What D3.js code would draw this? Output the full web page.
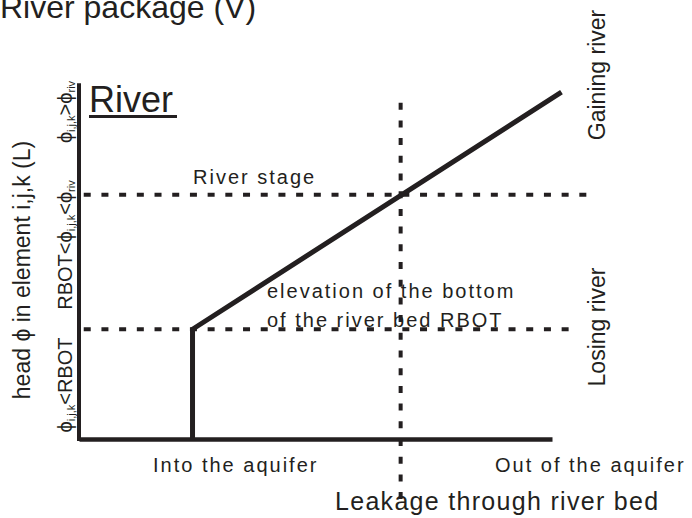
<!DOCTYPE html>
<html>
<head>
<meta charset="utf-8">
<script src="https://cdn.jsdelivr.net/npm/d3@7"></script>
<style>
  body { margin: 0; background: #fff; }
  text { fill: #231f20; font-family: "Liberation Sans", Arial, sans-serif; }
  .spaced { letter-spacing: 2px; font-size: 20px; }
</style>
</head>
<body>
<div id="chart"></div>
<script>
// conceptual units: x = leakage (0..10 along the drawn axis), y = head (0..10)
const headCurveX = [2.4, 2.4, 10.2];
const headCurveY = [0, 3.1, 9.8];
const levelNames = ['River stage', 'RBOT'];
const levelValues = [6.9, 3.1];
const levelEnds = [10.93, 10.55];
const zeroLeakage = 6.8;
const headRangeLabels = ['ϕ<RBOT', 'RBOT<ϕ<ϕriv', 'ϕ>ϕriv'];
const leakageLabels = ['Into the aquifer', 'Out of the aquifer'];
const riverTypes = ['Gaining river', 'Losing river'];

function riverChart() {
    let margin = { top: 85, left: 79, right: 140, bottom: 79 },
        width = 692,
        height = 518;

    function chart(selector) {
        let svg = d3.select(selector)
            .append('svg')
            .attr('width', width)
            .attr('height', height);

        let xScale = d3.scaleLinear()
            .domain([0, 10])
            .range([margin.left, width - margin.right]);

        let yScale = d3.scaleLinear()
            .domain([0, 10])
            .range([height - margin.bottom, margin.top]);

        // axes: plain lines, no ticks
        svg.append('g')
            .attr('transform', `translate(0,${yScale(0)})`)
            .call(d3.axisBottom(xScale).tickValues([]).tickSizeOuter(0))
            .call(g => g.select('.domain').attr('stroke', '#231f20').attr('stroke-width', 4.5));
        svg.append('g')
            .attr('transform', `translate(${xScale(0)},0)`)
            .call(d3.axisLeft(yScale).tickValues([]).tickSizeOuter(0))
            .call(g => g.select('.domain').attr('stroke', '#231f20').attr('stroke-width', 4)
                .attr('d', `M0,${yScale(0) + 2}V${yScale(10.05)}`));

        // dotted reference levels
        svg.selectAll('.level')
            .data(levelValues).enter()
            .append('line')
            .attr('x1', xScale(0.1))
            .attr('x2', (d, i) => xScale(levelEnds[i]))
            .attr('y1', d => yScale(d))
            .attr('y2', d => yScale(d))
            .attr('stroke', '#231f20')
            .attr('stroke-width', 4)
            .attr('stroke-dasharray', '7 10.7');

        // zero leakage line
        svg.append('line')
            .attr('x1', xScale(zeroLeakage)).attr('x2', xScale(zeroLeakage))
            .attr('y1', yScale(9.5)).attr('y2', yScale(-1.93))
            .attr('stroke', '#231f20')
            .attr('stroke-width', 4)
            .attr('stroke-dasharray', '7 10.7');

        // head vs leakage
        let line = d3.line()
            .x(d => xScale(d[0]))
            .y(d => yScale(d[1]));
        svg.append('path')
            .datum(d3.zip(headCurveX, headCurveY))
            .attr('d', line)
            .attr('fill', 'none')
            .attr('stroke', '#231f20')
            .attr('stroke-width', 5)
            .attr('stroke-linejoin', 'miter');

        // titles
        svg.append('text').attr('x', 0).attr('y', 18)
            .style('font-size', '32px').text('River package (V)');
        svg.append('text').attr('x', 89).attr('y', 112)
            .style('font-size', '36px').text('River');
        svg.append('rect').attr('x', 89).attr('y', 115).attr('width', 88).attr('height', 3)
            .attr('fill', '#231f20');

        // level labels
        svg.append('text').attr('class', 'spaced')
            .attr('x', 193).attr('y', 184).text(levelNames[0]);
        svg.append('text').attr('class', 'spaced')
            .attr('x', 267).attr('y', 298).text('elevation of the bottom');
        svg.append('text').attr('class', 'spaced')
            .attr('x', 267).attr('y', 327).text('of the river bed ' + levelNames[1]);

        // x labels
        svg.append('text').attr('class', 'spaced')
            .attr('x', 153).attr('y', 472).text(leakageLabels[0]);
        svg.append('text').attr('class', 'spaced')
            .attr('x', 495).attr('y', 472).text(leakageLabels[1]);
        svg.append('text')
            .attr('x', 335).attr('y', 510)
            .style('font-size', '25px').style('letter-spacing', '1.3px')
            .text('Leakage through river bed');

        // y label
        svg.append('text')
            .attr('transform', 'translate(30,270) rotate(-90)')
            .attr('text-anchor', 'middle')
            .style('font-size', '23px').text('head ϕ in element i,j,k (L)');

        // head ranges with subscripts
        let sub = (t, s) => t.append('tspan').attr('baseline-shift', '-25%')
            .style('font-size', '11px').text(s);
        let rangeCenters = [385, 245, 112];
        let rangeParts = [
            [['ϕ'], ['i,j,k', 1], ['<RBOT']],
            [['RBOT<ϕ'], ['i,j,k', 1], ['<ϕ'], ['riv', 1]],
            [['ϕ'], ['i,j,k', 1], ['>ϕ'], ['riv', 1]]
        ];
        rangeParts.forEach((parts, i) => {
            let t = svg.append('text')
                .attr('transform', `translate(72,${rangeCenters[i]}) rotate(-90)`)
                .attr('text-anchor', 'middle')
                .attr('aria-label', headRangeLabels[i])
                .style('font-size', '20px');
            parts.forEach(p => {
                if (p[1]) sub(t, p[0]);
                else t.append('tspan').text(p[0]);
            });
        });

        // gaining / losing
        svg.append('text')
            .attr('transform', 'translate(605,75) rotate(-90)')
            .attr('text-anchor', 'middle')
            .style('font-size', '23px').text(riverTypes[0]);
        svg.append('text')
            .attr('transform', 'translate(605,327) rotate(-90)')
            .attr('text-anchor', 'middle')
            .style('font-size', '23px').text(riverTypes[1]);

        return chart;
    }

    return chart;
}

riverChart()('#chart');
</script>
</body>
</html>
